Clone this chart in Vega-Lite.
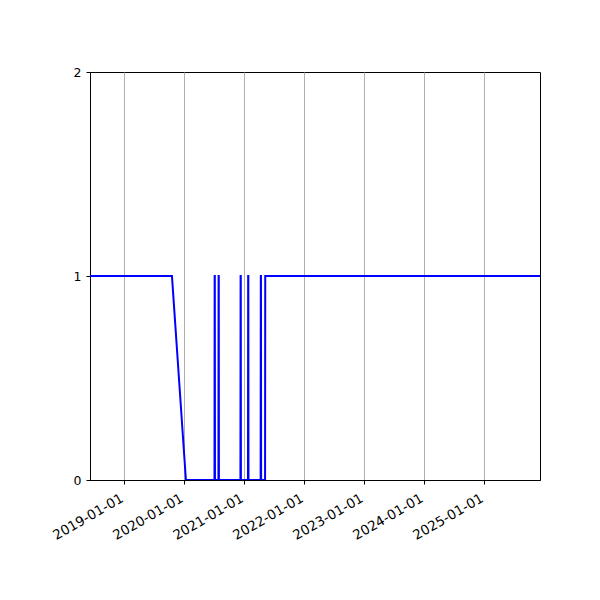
{
  "$schema": "https://vega.github.io/schema/vega-lite/v6.json",
  "width": 450,
  "height": 408,
  "autosize": {"type": "none"},
  "padding": {"left": 90, "top": 72, "right": 60, "bottom": 120},
  "background": "white",
  "config": {
    "view": {"stroke": "black", "strokeWidth": 1}
  },
  "data": {
    "values": [
      {"date": "2018-06-06", "value": 1},
      {"date": "2019-10-18", "value": 1},
      {"date": "2020-01-11", "value": 0},
      {"date": "2020-07-03", "value": 0},
      {"date": "2020-07-04", "value": 1},
      {"date": "2020-07-05", "value": 1},
      {"date": "2020-07-06", "value": 0},
      {"date": "2020-07-27", "value": 0},
      {"date": "2020-07-28", "value": 1},
      {"date": "2020-07-29", "value": 1},
      {"date": "2020-07-30", "value": 0},
      {"date": "2020-12-08", "value": 0},
      {"date": "2020-12-09", "value": 1},
      {"date": "2020-12-10", "value": 1},
      {"date": "2020-12-11", "value": 0},
      {"date": "2021-01-23", "value": 0},
      {"date": "2021-01-24", "value": 1},
      {"date": "2021-01-25", "value": 1},
      {"date": "2021-01-26", "value": 0},
      {"date": "2021-04-10", "value": 0},
      {"date": "2021-04-11", "value": 1},
      {"date": "2021-04-12", "value": 1},
      {"date": "2021-04-13", "value": 0},
      {"date": "2021-05-07", "value": 0},
      {"date": "2021-05-08", "value": 1},
      {"date": "2025-12-06", "value": 1}
    ]
  },
  "mark": {"type": "line", "color": "#0000ff", "strokeWidth": 2, "clip": true, "interpolate": "linear"},
  "encoding": {
    "x": {
      "field": "date",
      "type": "temporal",
      "scale": {
        "type": "utc",
        "domain": [1528243200000, 1764979200000]
      },
      "axis": {
        "title": null,
        "values": [1546300800000, 1577836800000, 1609459200000, 1640995200000, 1672531200000, 1704067200000, 1735689600000],
        "labelExpr": "utcFormat(datum.value, '%Y-%m-%d')",
        "labelAngle": -30,
        "labelAlign": "right",
        "labelBaseline": "top",
        "labelFont": "DejaVu Sans",
        "labelFontSize": 13.5,
        "labelColor": "black",
        "labelPadding": 7,
        "labelOffset": -6,
        "labelOverlap": false,
        "domainColor": "black",
        "tickColor": "black",
        "tickSize": 4,
        "grid": true,
        "gridColor": "#b0b0b0",
        "gridWidth": 1
      }
    },
    "y": {
      "field": "value",
      "type": "quantitative",
      "scale": {"domain": [0, 2], "nice": false, "zero": false},
      "axis": {
        "title": null,
        "values": [0, 1, 2],
        "labelExpr": "format(datum.value, 'd')",
        "labelFont": "DejaVu Sans",
        "labelFontSize": 12.5,
        "labelColor": "black",
        "labelPadding": 5,
        "labelOverlap": false,
        "labelFlush": false,
        "domainColor": "black",
        "tickColor": "black",
        "tickSize": 4,
        "grid": false
      }
    }
  }
}
